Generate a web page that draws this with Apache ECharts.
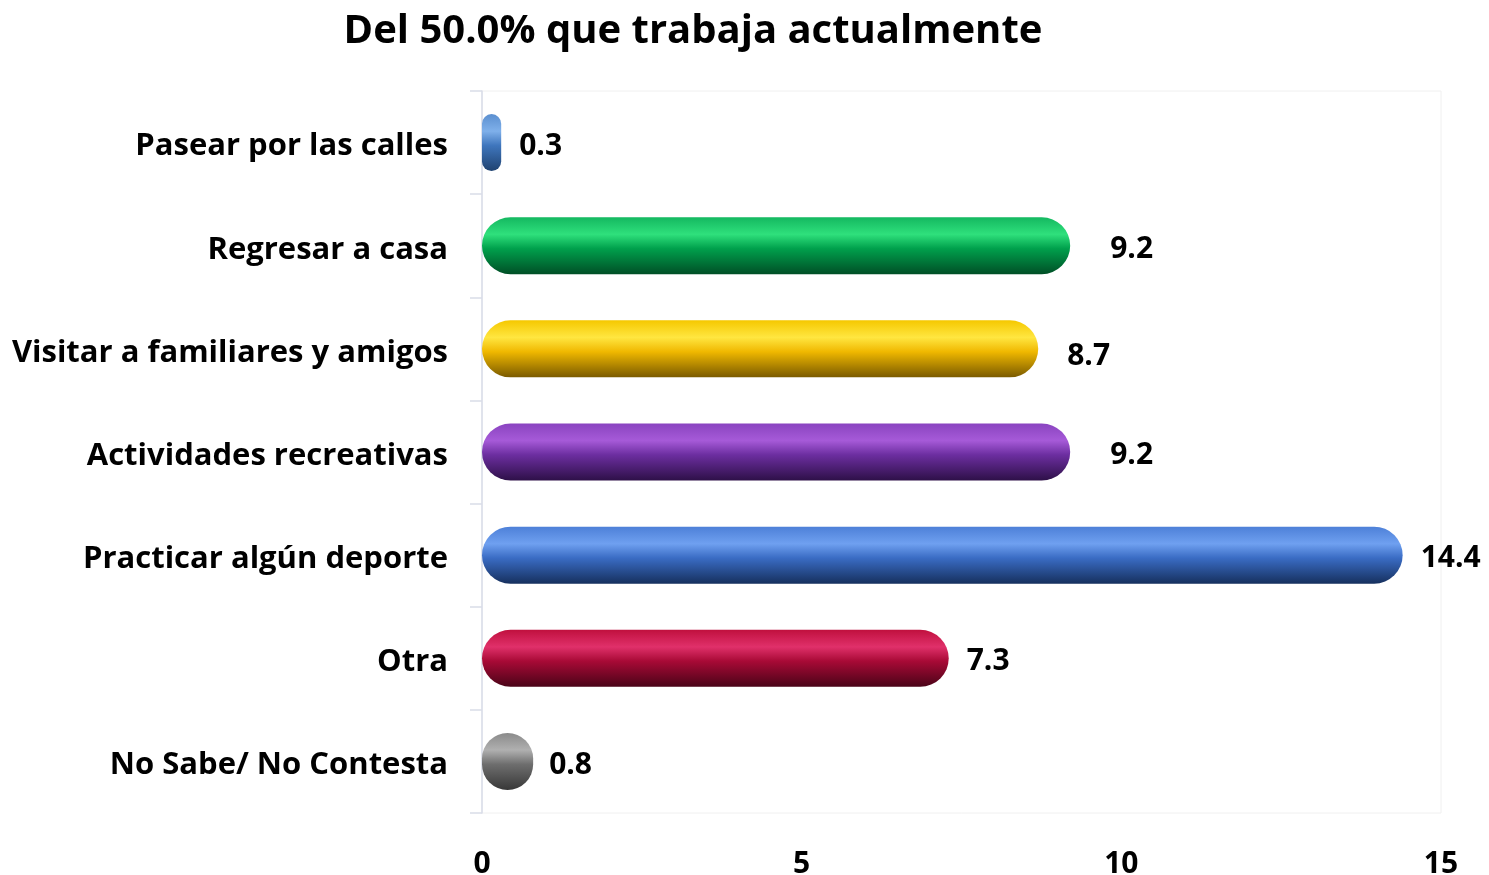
<!DOCTYPE html>
<html>
<head>
<meta charset="utf-8">
<script src="https://cdn.jsdelivr.net/npm/echarts@6/dist/echarts.min.js"></script>
<style>html,body{margin:0;padding:0;background:#fff}#c{width:1489px;height:875px}</style>
</head>
<body>
<div id="c"></div>
<script>
const titleText = 'Del 50.0% que trabaja actualmente';
const categories = ['Pasear por las calles','Regresar a casa','Visitar a familiares y amigos','Actividades recreativas','Practicar algún deporte','Otra','No Sabe/ No Contesta'];
const values = [0.3, 9.2, 8.7, 9.2, 14.4, 7.3, 0.8];
const xTicks = [0, 5, 10, 15];

// style: [top, highlight, mid, bottom] per bar
const palettes = [
  ['#5b8fd0','#7fb0ea','#3f76bd','#1f4270'],
  ['#14b860','#2fe07c','#00a04c','#004f26'],
  ['#f5c800','#ffe640','#f0b800','#7a5a00'],
  ['#8a44c0','#a65ad8','#6c2ea0','#2e1048'],
  ['#4d80d8','#6fa0f0','#3a6cc4','#16305e'],
  ['#c0103e','#e0306a','#a80a36','#4a0418'],
  ['#8a8a8a','#b0b0b0','#6e6e6e','#383838']
];
// style: label gap / vertical nudge per bar
const labelGap = [18, 40, 29, 40, 18, 18, 16];
const labelDy = [4, 4, 8, 3, 3, 3, 4];

const font = '"Open Sans", sans-serif';
const chart = echarts.init(document.getElementById('c'));
chart.setOption({
  backgroundColor: '#fff',
  title: {
    text: titleText, left: 688, top: 7, textAlign: 'center',
    textStyle: { fontFamily: font, fontWeight: 'bold', fontSize: 40, color: '#000' }
  },
  grid: { left: 482, right: 48, top: 91, bottom: 62, show: true, borderColor: '#f0f0f0', borderWidth: 1, outerBoundsMode: 'none', containLabel: false },
  xAxis: {
    type: 'value', min: 0, max: 15, interval: 5,
    axisLine: { show: false }, axisTick: { show: false }, splitLine: { show: false },
    axisLabel: {
      margin: 36, fontFamily: font, fontWeight: 'bold', fontSize: 30, color: '#000',
      formatter: v => xTicks.includes(v) ? String(v) : ''
    }
  },
  yAxis: {
    type: 'category', data: categories, inverse: true,
    axisLine: { lineStyle: { color: '#d9dde8', width: 1.5 } },
    axisTick: { show: true, length: 12, lineStyle: { color: '#d9dde8', width: 1.5 } },
    axisLabel: {
      margin: 34, color: '#000',
      formatter: v => '{t|' + v + '}',
      rich: { t: { fontFamily: font, fontWeight: 'bold', fontSize: 31, color: '#000', padding: [8, 0, 0, 0] } }
    }
  },
  series: [{
    type: 'bar', barWidth: 57,
    data: values.map((v, i) => ({
      value: v,
      label: { distance: labelGap[i], offset: [0, labelDy[i]] },
      itemStyle: {
        borderRadius: 28.5,
        color: new echarts.graphic.LinearGradient(0, 0, 0, 1, [
          { offset: 0, color: palettes[i][0] },
          { offset: 0.3, color: palettes[i][1] },
          { offset: 0.55, color: palettes[i][2] },
          { offset: 1, color: palettes[i][3] }
        ])
      }
    })),
    label: {
      show: true, position: 'right',
      fontFamily: font, fontWeight: 'bold', fontSize: 30, color: '#000',
      formatter: p => p.value.toFixed(1)
    }
  }]
});
</script>
</body>
</html>
